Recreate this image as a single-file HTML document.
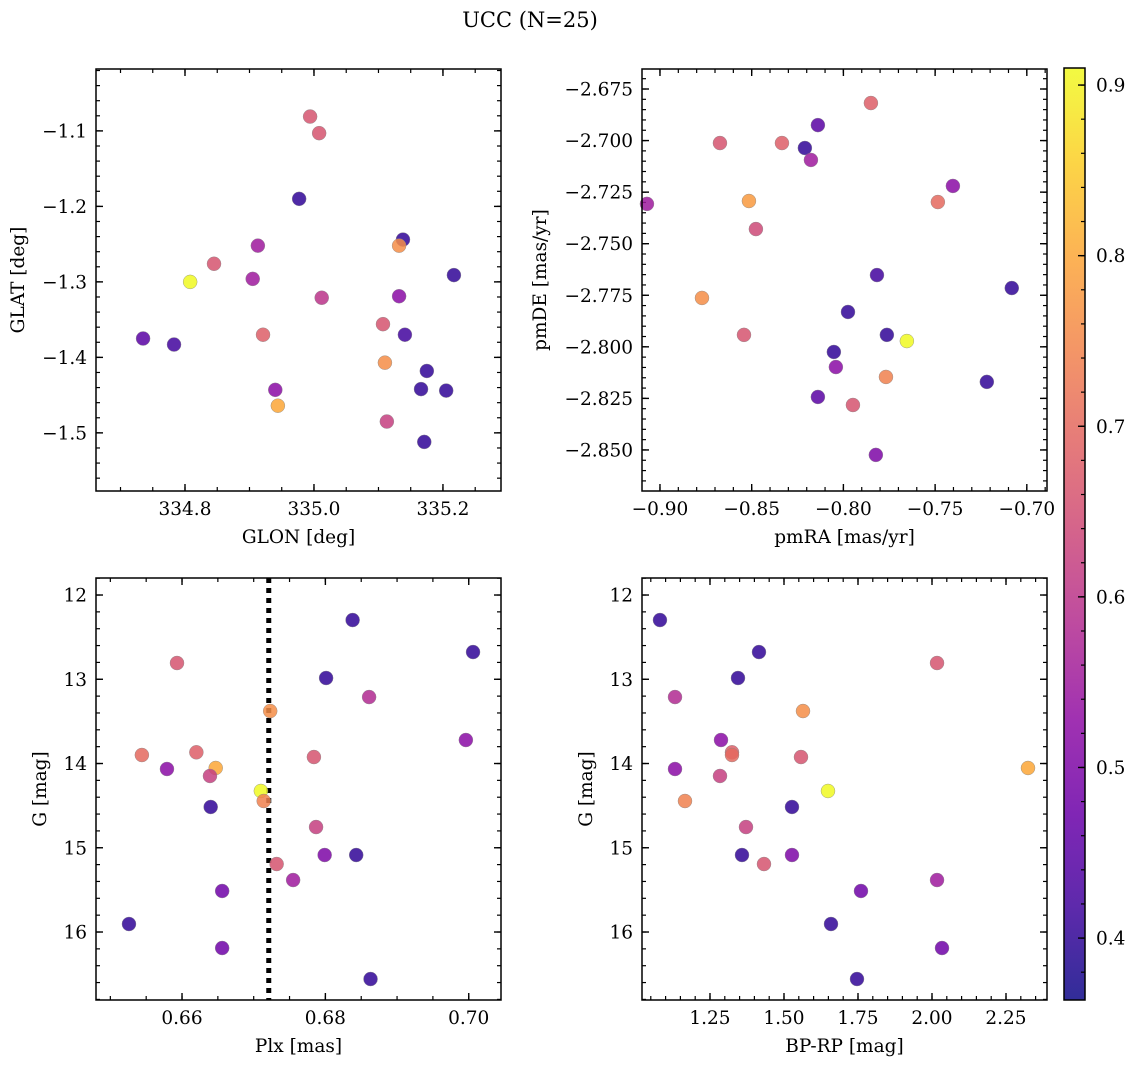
<!DOCTYPE html>
<html><head><meta charset="utf-8"><style>
body{margin:0;background:#fff}
svg{display:block;font-family:"DejaVu Serif","Liberation Serif",serif}
</style></head><body>
<svg id="fig" width="1136" height="1068" viewBox="0 0 1136 1068">
<text x="530" y="27" font-size="21" text-anchor="middle">UCC (N=25)</text>
</svg>
<script>
// Panel 1: GLON vs GLAT
const glon=[334.994,335.008,334.977,335.138,335.132,334.913,334.845,335.217,334.905,334.808,335.012,335.132,335.107,335.141,334.921,334.735,334.783,335.110,335.175,335.166,335.205,334.940,334.944,335.113,335.171];
const glat=[-1.081,-1.103,-1.190,-1.244,-1.252,-1.252,-1.276,-1.291,-1.296,-1.300,-1.321,-1.319,-1.356,-1.370,-1.370,-1.375,-1.383,-1.407,-1.418,-1.442,-1.444,-1.443,-1.464,-1.485,-1.512];
const c1=[0.66,0.66,0.40,0.40,0.76,0.55,0.66,0.40,0.55,0.91,0.60,0.52,0.66,0.42,0.68,0.45,0.42,0.76,0.40,0.40,0.40,0.52,0.80,0.62,0.40];
// Panel 2: pmRA vs pmDE
const pmra=[-0.7850,-0.8139,-0.8673,-0.8335,-0.8210,-0.8177,-0.7403,-0.8515,-0.9071,-0.7485,-0.8477,-0.7817,-0.8771,-0.7082,-0.7975,-0.7763,-0.8542,-0.7654,-0.8052,-0.8041,-0.7218,-0.7768,-0.8139,-0.7948,-0.7823];
const pmde=[-2.6818,-2.6925,-2.7012,-2.7012,-2.7036,-2.7094,-2.7220,-2.7293,-2.7307,-2.7298,-2.7429,-2.7652,-2.7763,-2.7715,-2.7831,-2.7942,-2.7942,-2.7972,-2.8025,-2.8098,-2.8170,-2.8146,-2.8243,-2.8282,-2.8524];
const c2=[0.68,0.45,0.66,0.68,0.40,0.55,0.52,0.78,0.55,0.70,0.64,0.42,0.76,0.40,0.40,0.40,0.66,0.91,0.40,0.52,0.40,0.74,0.45,0.66,0.50];
// Panels 3/4: Plx, BP-RP vs G
const plx=[0.6838,0.7006,0.6593,0.6801,0.6861,0.6723,0.6996,0.6620,0.6544,0.6784,0.6579,0.6647,0.6639,0.6710,0.6714,0.6640,0.6787,0.6799,0.6843,0.6732,0.6755,0.6656,0.6526,0.6656,0.6863];
const bprp=[1.081,1.4155,2.017,1.3446,1.1318,1.5642,1.2872,1.3243,1.3243,1.5574,1.1318,2.3243,1.2838,1.6486,1.1655,1.527,1.3716,1.527,1.3581,1.4324,2.017,1.7601,1.6588,2.0338,1.7466];
const gmag=[12.297,12.677,12.807,12.985,13.211,13.377,13.721,13.867,13.899,13.923,14.065,14.053,14.148,14.326,14.445,14.516,14.754,15.086,15.086,15.193,15.383,15.513,15.905,16.190,16.558];
const c3=[0.40,0.40,0.66,0.40,0.58,0.76,0.52,0.68,0.70,0.66,0.52,0.80,0.62,0.91,0.74,0.40,0.62,0.50,0.40,0.66,0.55,0.48,0.40,0.48,0.40];
const plxLine=0.6721;
const cbTicks=[0.4,0.5,0.6,0.7,0.8,0.9];

const NS="http://www.w3.org/2000/svg";
const svg=document.getElementById('fig');
const FS=18.5;
const CMIN=0.3637,CMAX=0.91;
const stops=[[13,8,135],[65,4,157],[106,0,168],[143,13,164],[177,42,144],[204,71,120],[225,100,98],[242,132,75],[252,166,54],[252,206,37],[240,249,33]];
function plasma(t){t=Math.max(0,Math.min(1,t));const f=t*10,i=Math.min(9,Math.floor(f)),r=f-i;const a=stops[i],b=stops[i+1];
 return 'rgb('+a.map((v,k)=>Math.round(v+(b[k]-v)*r)).join(',')+')';}
function cmap(v){return plasma((v-CMIN)/(CMAX-CMIN));}
function el(tag,attrs,parent){const e=document.createElementNS(NS,tag);for(const k in attrs)e.setAttribute(k,attrs[k]);(parent||svg).appendChild(e);return e;}

function panel(o){
 const g=el('g',{});
 
 
 const sx=v=>o.L+(v-o.x0)/(o.x1-o.x0)*(o.R-o.L);
 const sy=v=>o.B-(v-o.y0)/(o.y1-o.y0)*(o.B-o.T);
 const tk=(a,b,step)=>{const out=[];for(let k=Math.ceil(a/step-1e-6);k*step<=b+1e-9;k++)out.push(k*step);return out;};
 const [xa,xb]=[Math.min(o.x0,o.x1),Math.max(o.x0,o.x1)],[ya,yb]=[Math.min(o.y0,o.y1),Math.max(o.y0,o.y1)];
 tk(xa,xb,o.xmin).forEach(v=>{const x=sx(v);el('line',{x1:x,x2:x,y1:o.B,y2:o.B-4,stroke:'#000','stroke-width':1.2},g);el('line',{x1:x,x2:x,y1:o.T,y2:o.T+4,stroke:'#000','stroke-width':1.2},g);});
 tk(ya,yb,o.ymin).forEach(v=>{const y=sy(v);el('line',{x1:o.L,x2:o.L+4,y1:y,y2:y,stroke:'#000','stroke-width':1.2},g);el('line',{x1:o.R,x2:o.R-4,y1:y,y2:y,stroke:'#000','stroke-width':1.2},g);});
 o.xt.forEach(v=>{const x=sx(v);el('line',{x1:x,x2:x,y1:o.B,y2:o.B-7,stroke:'#000','stroke-width':1.4},g);el('line',{x1:x,x2:x,y1:o.T,y2:o.T+7,stroke:'#000','stroke-width':1.4},g);
  const t=el('text',{x:x,y:o.B+24,'font-size':FS,'text-anchor':'middle'},g);t.textContent=o.xf(v);
  
  });
 o.yt.forEach(v=>{const y=sy(v);el('line',{x1:o.L,x2:o.L+7,y1:y,y2:y,stroke:'#000','stroke-width':1.4},g);el('line',{x1:o.R,x2:o.R-7,y1:y,y2:y,stroke:'#000','stroke-width':1.4},g);
  const t=el('text',{x:o.L-9,y:y+6.5,'font-size':FS,'text-anchor':'end'},g);t.textContent=o.yf(v);
  
  });
 if(o.vline!==undefined){const x=sx(o.vline);const ln=el('line',{x1:x,x2:x,y1:o.T,y2:o.B,stroke:'#000','stroke-width':5,'stroke-dasharray':'5,5'},g);
  
  }
 o.xs.forEach((v,i)=>{const c=el('circle',{cx:sx(v),cy:sy(o.ys[i]),r:7,fill:cmap(o.cs[i]),'fill-opacity':0.85,stroke:'#888','stroke-width':0.4},g);
  
  });
 el('rect',{x:o.L,y:o.T,width:o.R-o.L,height:o.B-o.T,fill:'none',stroke:'#000','stroke-width':1.5},g);
 const xl=el('text',{x:(o.L+o.R)/2,y:o.B+52,'font-size':FS,'text-anchor':'middle'},g);xl.textContent=o.xl;
 
 
 const yx=o.ylx,yy=(o.T+o.B)/2;
 const yl=el('text',{x:yx,y:yy,'font-size':FS,'text-anchor':'middle',transform:`rotate(-90 ${yx} ${yy})`},g);yl.textContent=o.yl;
 
 
}
const neg=s=>s.replace('-','\u2212');
panel({name:'glon-glat-panel',L:96,R:501,T:69,B:491,x0:334.662,x1:335.290,y0:-1.577,y1:-1.018,
 xt:[334.8,335.0,335.2],yt:[-1.1,-1.2,-1.3,-1.4,-1.5],xmin:0.05,ymin:0.02,xf:v=>v.toFixed(1),yf:v=>neg(v.toFixed(1)),
 xs:glon,ys:glat,cs:c1,xl:'GLON [deg]',yl:'GLAT [deg]',ylx:24});
panel({name:'pmra-pmde-panel',L:642,R:1047,T:69,B:491,x0:-0.9098,x1:-0.689,y0:-2.8699,y1:-2.6653,
 xt:[-0.90,-0.85,-0.80,-0.75,-0.70],yt:[-2.675,-2.7,-2.725,-2.75,-2.775,-2.8,-2.825,-2.85],xmin:0.01,ymin:0.005,xf:v=>neg(v.toFixed(2)),yf:v=>neg(v.toFixed(3)),
 xs:pmra,ys:pmde,cs:c2,xl:'pmRA [mas/yr]',yl:'pmDE [mas/yr]',ylx:546});
panel({name:'plx-g-panel',L:96,R:501,T:578,B:1000,x0:0.648,x1:0.7045,y0:16.807,y1:11.798,
 xt:[0.66,0.68,0.70],yt:[12,13,14,15,16],xmin:0.005,ymin:0.2,xf:v=>v.toFixed(2),yf:v=>String(v),
 xs:plx,ys:gmag,cs:c3,xl:'Plx [mas]',yl:'G [mag]',ylx:46,vline:plxLine});
panel({name:'bprp-g-panel',L:642,R:1047,T:578,B:1000,x0:1.0203,x1:2.3885,y0:16.807,y1:11.798,
 xt:[1.25,1.5,1.75,2.0,2.25],yt:[12,13,14,15,16],xmin:0.05,ymin:0.2,xf:v=>v.toFixed(2),yf:v=>String(v),
 xs:bprp,ys:gmag,cs:c3,xl:'BP-RP [mag]',yl:'G [mag]',ylx:592});

// colorbar
const cb=el('g',{});


const CT=68,CB=1000,CL=1064,CR=1085;
const defs=el('defs',{},cb);const lg=el('linearGradient',{id:'cg',x1:0,y1:1,x2:0,y2:0},defs);
for(let i=0;i<=20;i++){el('stop',{offset:i/20,'stop-color':plasma(i/20),'stop-opacity':0.85},lg);}
el('rect',{x:CL,y:CT,width:CR-CL,height:CB-CT,fill:'url(#cg)'},cb);
const cy=v=>CB-(v-CMIN)/(CMAX-CMIN)*(CB-CT);
for(let v=0.38;v<=0.91;v+=0.02){const y=cy(v);el('line',{x1:CR,x2:CR-4,y1:y,y2:y,stroke:'#000','stroke-width':1.2},cb);}
cbTicks.forEach(v=>{const y=cy(v);el('line',{x1:CR,x2:CR-7,y1:y,y2:y,stroke:'#000','stroke-width':1.4},cb);
 const t=el('text',{x:CR+11,y:y+6.5,'font-size':FS},cb);t.textContent=v.toFixed(1);
 
 });
el('rect',{x:CL,y:CT,width:CR-CL,height:CB-CT,fill:'none',stroke:'#000','stroke-width':1.5},cb);
</script>
</body></html>
